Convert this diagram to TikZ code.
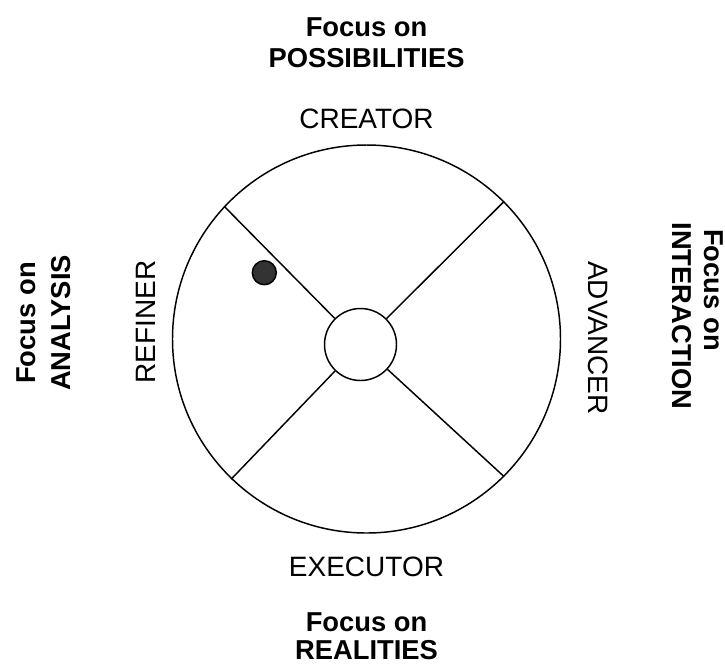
\documentclass[tikz,border=0pt]{standalone}
\usepackage{fontspec}
\setmainfont{Liberation Sans}
\begin{document}
\begin{tikzpicture}[x=0.75pt,y=-0.75pt,
  lbl/.style={inner sep=0pt,font=\fontsize{21}{24}\selectfont},
  blbl/.style={inner sep=0pt,font=\fontsize{20.5}{24}\selectfont\bfseries},
  ring/.style={draw,circle,line width=1.1pt,inner sep=0pt},
  spoke/.style={line width=1.1pt}]
\useasboundingbox (0,0) rectangle (725,669);
% circles
\node[ring,minimum size=291pt] (outer) at (366.5,339) {};
\node[ring,minimum size=54pt,fill=white] (inner) at (360.5,344.5) {};
\node[ring,minimum size=18pt,fill=black!80] (dot) at (264.3,272.7) {};
% spokes
\draw[spoke] (outer.137.8) -- (inner);
\draw[spoke] (outer.45) -- (inner);
\draw[spoke] (outer.226.6) -- (inner);
\draw[spoke] (outer.315.9) -- (inner);
% top
\node[blbl,anchor=base] (tfocus) at (366.5,36) {Focus on};
\node[blbl,anchor=base] (tposs) at (366.5,67) {POSSIBILITIES};
\node[lbl,anchor=base] (creator) at (366.5,128) {CREATOR};
% bottom
\node[lbl,anchor=base] (executor) at (366.5,576) {EXECUTOR};
\node[blbl,anchor=base] (bfocus) at (366.5,631) {Focus on};
\node[blbl,anchor=base] (breal) at (366.5,659) {REALITIES};
% left
\node[blbl,anchor=base,rotate=90] (lfocus) at (36,323) {Focus on};
\node[blbl,anchor=base,rotate=90] (lanal) at (70,323) {ANALYSIS};
\node[lbl,anchor=base,rotate=90] (refiner) at (155,322) {REFINER};
% right
\node[lbl,anchor=base,rotate=-90] (advancer) at (588,338) {ADVANCER};
\node[blbl,anchor=base,rotate=-90] (rinter) at (672,316) {INTERACTION};
\node[blbl,anchor=base,rotate=-90] (rfocus) at (704,290) {Focus on};
\end{tikzpicture}
\end{document}
